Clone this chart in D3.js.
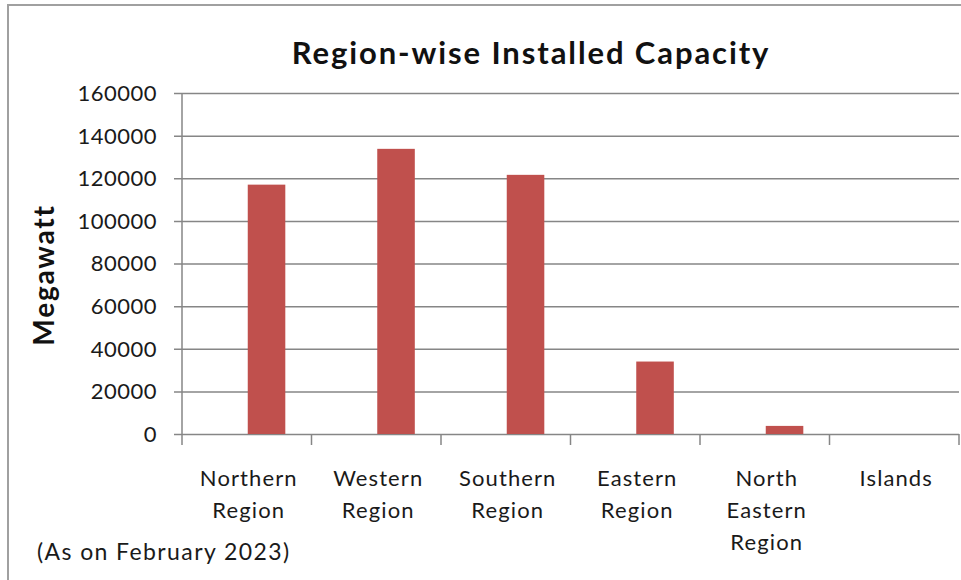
<!DOCTYPE html>
<html>
<head>
<meta charset="utf-8">
<script src="https://cdn.jsdelivr.net/npm/d3@7"></script>
<style>
  body { margin: 0; background: #fff; }
  svg { display: block; font-family: Lato, "Open Sans", sans-serif; }
</style>
</head>
<body>
<svg width="961" height="580"></svg>
<script>
var regions = ["Northern Region", "Western Region", "Southern Region", "Eastern Region", "North Eastern Region", "Islands"];
var labelLines = [["Northern", "Region"], ["Western", "Region"], ["Southern", "Region"], ["Eastern", "Region"], ["North", "Eastern", "Region"], ["Islands"]];
var capacity = [117000, 133800, 121600, 34000, 3800, 0];
var yTicks = [0, 20000, 40000, 60000, 80000, 100000, 120000, 140000, 160000];

var svg = d3.select("svg"),
    width = +svg.attr("width"),
    height = +svg.attr("height");

var margin = {left: 182, right: 2, top: 93, bottom: 146};

// outer frame
svg.append("rect")
    .attr("x", 8).attr("y", 5)
    .attr("width", 970).attr("height", 600)
    .attr("fill", "none")
    .attr("stroke", "#a0a0a0")
    .attr("stroke-width", 2);

var x = d3.scaleBand()
    .domain(regions)
    .range([margin.left, width - margin.right]);

var y = d3.scaleLinear()
    .domain([0, 160000])
    .range([height - margin.bottom, margin.top]);

// gridlines
svg.append("g")
  .selectAll("line")
  .data(yTicks)
  .enter().append("line")
    .attr("x1", margin.left - 8)
    .attr("x2", width - margin.right)
    .attr("y1", function(d) { return y(d) + 0.5; })
    .attr("y2", function(d) { return y(d) + 0.5; })
    .attr("stroke", "#868686")
    .attr("stroke-width", 1.5);

// y axis line
svg.append("line")
    .attr("x1", margin.left).attr("x2", margin.left)
    .attr("y1", y(160000)).attr("y2", y(0) + 11)
    .attr("stroke", "#868686").attr("stroke-width", 1.5);

// category tick marks
var edges = regions.map(function(r) { return x(r) + x.bandwidth(); });
svg.append("g")
  .selectAll("line")
  .data(edges)
  .enter().append("line")
    .attr("x1", function(d) { return d; })
    .attr("x2", function(d) { return d; })
    .attr("y1", y(0))
    .attr("y2", y(0) + 11)
    .attr("stroke", "#868686")
    .attr("stroke-width", 1.5);

// y tick labels
svg.append("g")
  .selectAll("text")
  .data(yTicks)
  .enter().append("text")
    .attr("x", 157)
    .attr("y", function(d) { return y(d); })
    .attr("dy", "0.36em")
    .attr("text-anchor", "end")
    .attr("font-size", 22)
    .attr("letter-spacing", 0.5)
    .attr("fill", "#1a1a1a")
    .text(function(d) { return d; });

// bars (offset in each band, like an empty first series)
var barW = x.bandwidth() * 0.29;
svg.append("g")
  .selectAll("rect")
  .data(capacity)
  .enter().append("rect")
    .attr("x", function(d, i) { return x(regions[i]) + x.bandwidth() / 2 + 1; })
    .attr("y", function(d) { return y(d); })
    .attr("width", barW)
    .attr("height", function(d) { return y(0) - y(d); })
    .attr("fill", "#c0504d");

// category labels
var cat = svg.append("g")
  .selectAll("text")
  .data(labelLines)
  .enter().append("text")
    .attr("x", function(d, i) { return x(regions[i]) + x.bandwidth() / 2 + 2; })
    .attr("y", 486)
    .attr("text-anchor", "middle")
    .attr("font-size", 22)
    .attr("letter-spacing", 1.1)
    .attr("fill", "#1a1a1a");
cat.selectAll("tspan")
  .data(function(d) { return d; })
  .enter().append("tspan")
    .attr("x", function() { return d3.select(this.parentNode).attr("x"); })
    .attr("dy", function(d, i) { return i ? 32 : 0; })
    .text(function(d) { return d; });

// title
svg.append("text")
    .attr("x", 531)
    .attr("y", 64)
    .attr("text-anchor", "middle")
    .attr("font-size", 31)
    .attr("font-weight", "bold")
    .attr("letter-spacing", 1.9)
    .attr("fill", "#111")
    .text("Region-wise Installed Capacity");

// y axis title
svg.append("text")
    .attr("transform", "translate(54,275) rotate(-90)")
    .attr("text-anchor", "middle")
    .attr("font-size", 28)
    .attr("font-weight", "bold")
    .attr("letter-spacing", 1.8)
    .attr("fill", "#111")
    .text("Megawatt");

// footnote
svg.append("text")
    .attr("x", 37)
    .attr("y", 560)
    .attr("font-size", 23)
    .attr("letter-spacing", 1.4)
    .attr("fill", "#1a1a1a")
    .text("(As on February 2023)");
</script>
</body>
</html>
